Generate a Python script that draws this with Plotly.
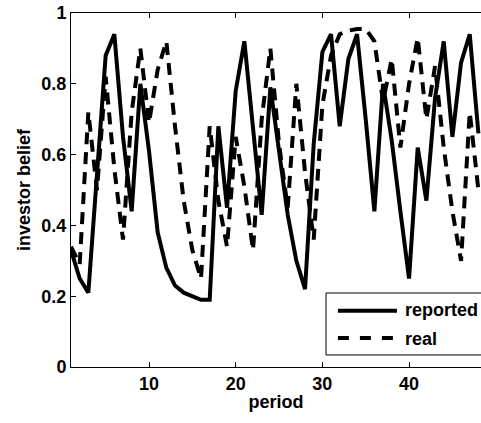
import plotly.graph_objects as go

# Investor belief per period: belief formed from reported vs. real figures
periods = list(range(1, 49))

reported = [
    0.33, 0.25, 0.21, 0.54, 0.88, 0.94, 0.65, 0.44, 0.80, 0.61,
    0.38, 0.28, 0.23, 0.21, 0.20, 0.19, 0.19, 0.68, 0.45, 0.78,
    0.92, 0.68, 0.43, 0.79, 0.60, 0.43, 0.30, 0.22, 0.63, 0.89,
    0.94, 0.68, 0.87, 0.94, 0.70, 0.44, 0.80, 0.64, 0.44, 0.25,
    0.62, 0.47, 0.76, 0.92, 0.65, 0.86, 0.94, 0.66,
]

real = [
    0.34, 0.29, 0.72, 0.50, 0.82, 0.56, 0.36, 0.72, 0.90, 0.69,
    0.84, 0.92, 0.68, 0.47, 0.33, 0.25, 0.68, 0.47, 0.34, 0.65,
    0.51, 0.33, 0.70, 0.90, 0.63, 0.45, 0.80, 0.55, 0.36, 0.74,
    0.88, 0.94, 0.95, 0.955, 0.955, 0.92, 0.75, 0.87, 0.62, 0.80,
    0.93, 0.70, 0.85, 0.62, 0.44, 0.30, 0.72, 0.50,
]

x_ticks = [10, 20, 30, 40]
y_ticks = [0, 0.2, 0.4, 0.6, 0.8, 1]
y_tick_labels = ["0", "0.2", "0.4", "0.6", "0.8", "1"]

FONT = "Liberation Sans, Arial, Helvetica, sans-serif"
DASH = "12px,8px"
LW = 4

fig = go.Figure()
fig.add_trace(go.Scatter(
    x=periods, y=reported, mode="lines", name="reported",
    line=dict(color="black", width=LW),
))
fig.add_trace(go.Scatter(
    x=periods, y=real, mode="lines", name="real",
    line=dict(color="black", width=LW, dash=DASH),
))

# Boxed legend in the lower right corner of the axes
lx0, lx1 = 0.651, 0.795
shapes = [
    dict(type="rect", xref="paper", yref="paper", x0=0.622, x1=1.05,
         y0=0.034, y1=0.209, line=dict(color="black", width=1),
         fillcolor="white", layer="above"),
    dict(type="line", xref="paper", yref="paper", x0=lx0, x1=lx1,
         y0=0.159, y1=0.159, line=dict(color="black", width=LW), layer="above"),
    dict(type="line", xref="paper", yref="paper", x0=lx0, x1=lx1,
         y0=0.082, y1=0.082, line=dict(color="black", width=LW, dash="11px,11px"),
         layer="above"),
]
annotations = [
    dict(text=name, xref="paper", yref="paper", x=0.81, y=yy,
         xanchor="left", yanchor="middle", showarrow=False,
         font=dict(family=FONT, size=18, color="black", weight="bold"))
    for name, yy in (("reported", 0.161), ("real", 0.078))
]

fig.update_layout(
    width=481, height=423,
    margin=dict(l=71, r=0, t=13, b=56),
    paper_bgcolor="white", plot_bgcolor="white",
    showlegend=False,
    font=dict(family=FONT, size=18, color="black", weight="bold"),
    shapes=shapes, annotations=annotations,
)
fig.update_xaxes(
    range=[1, 48.3], tickvals=x_ticks, ticks="inside", ticklen=5,
    tickcolor="black", showline=True, linecolor="black", linewidth=1,
    mirror="ticks", showgrid=False, zeroline=False,
    tickfont=dict(family=FONT, size=18, color="black", weight="bold"),
    title=dict(text="period", standoff=2,
               font=dict(family=FONT, size=18, color="black", weight="bold")),
)
fig.update_yaxes(
    range=[0, 1], tickvals=y_ticks, ticktext=y_tick_labels, ticks="inside",
    ticklen=5, tickcolor="black", showline=True, linecolor="black",
    linewidth=1, mirror=False, showgrid=False, zeroline=False,
    tickfont=dict(family=FONT, size=18, color="black", weight="bold"),
    title=dict(text="investor belief", standoff=6,
               font=dict(family=FONT, size=18, color="black", weight="bold")),
)

fig.write_html("out.html")
